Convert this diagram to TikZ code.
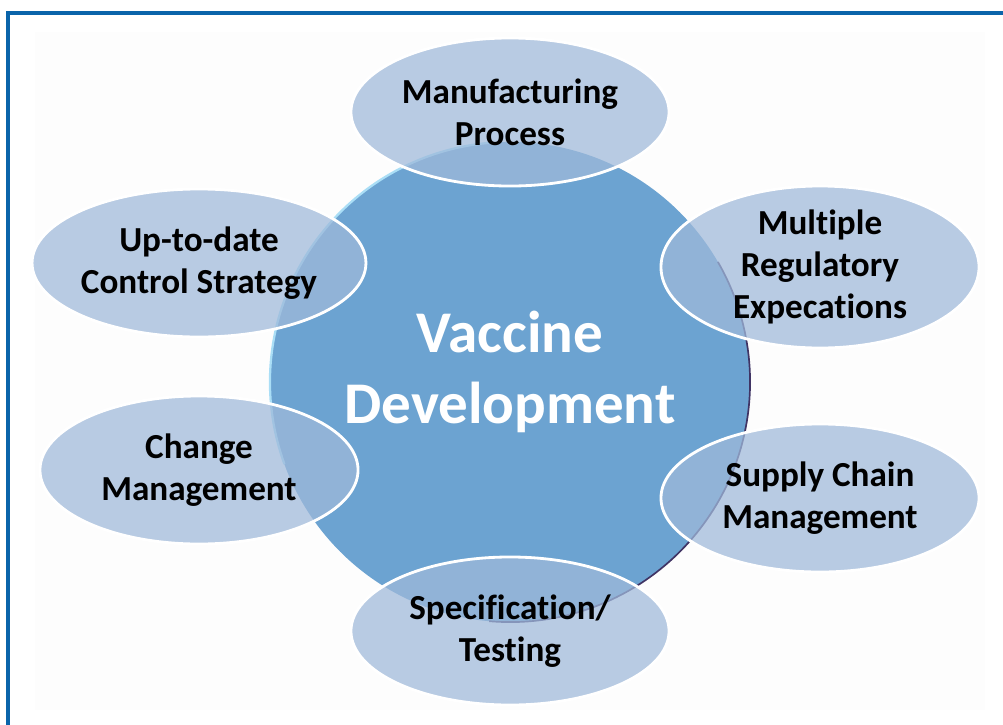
\documentclass[tikz,border=0pt]{standalone}
\usepackage{fontspec}
\setmainfont{Carlito}[Ligatures=NoCommon]
\usepackage{xcolor}
\usetikzlibrary{shapes.geometric}

\definecolor{frameblue}{RGB}{10,100,170}
\definecolor{hubblue}{RGB}{108,163,209}
\definecolor{petalblue}{RGB}{159,185,218}
\definecolor{rimlight}{RGB}{170,222,246}
\definecolor{rimdark}{RGB}{64,52,100}

\tikzset{
  petal/.style={ellipse, minimum width=7.95cm, minimum height=3.7cm,
    inner sep=0pt, outer sep=0pt, fill=petalblue, fill opacity=0.73,
    text opacity=1, draw=white, line width=2pt, align=center,
    font=\fontsize{25}{30}\selectfont\bfseries},
  hub/.style={circle, minimum size=12cm, inner sep=0pt, outer sep=0pt,
    fill=hubblue}
}

\begin{document}
\begin{tikzpicture}[x=0.025cm, y=-0.025cm]
    \useasboundingbox (0,0) rectangle (1003,724);

    % Draw the background and the frame
    \fill[black!0.6] (35,32) rectangle (985,710);
    \draw[frameblue, line width=2.6pt] (8,730) -- (8,13) -- (1010,13);

    % Draw the main circle
    \node[hub] (hub) at (510,382) {};
    \draw[rimlight, line width=1.6pt] (hub.95) arc[start angle=95, end angle=200, radius=6cm];
    \draw[rimdark, line width=1.2pt] (hub.-95) arc[start angle=-95, end angle=30, radius=6cm];
    \node[text=white, align=center, font=\fontsize{42}{50}\selectfont\bfseries] (title) at (510,372) {Vaccine\\Development};

    % Add the ellipses around the circle
    \node[petal] (manuf) at (510,112) {Manufacturing\\Process};
    \node[petal] (regul) at (820,267) {Multiple\\Regulatory\\Expecations};
    \node[petal] (supply) at (820,498) {Supply Chain\\Management};
    \node[petal] (spec) at (510,631) {Specification/\\Testing};
    \node[petal] (change) at (199,470) {Change\\Management};
    \node[petal] (control) at (199,263) {Up-to-date\\Control Strategy};
\end{tikzpicture}
\end{document}
